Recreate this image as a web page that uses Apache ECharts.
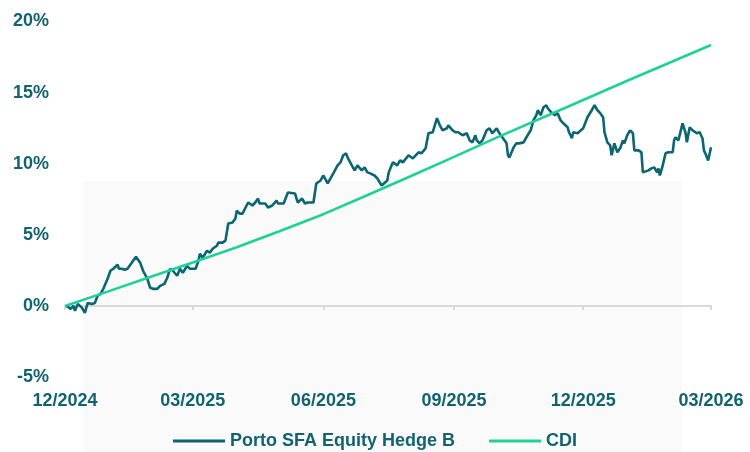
<!DOCTYPE html>
<html>
<head>
<meta charset="utf-8">
<script src="https://cdn.jsdelivr.net/npm/echarts@6/dist/echarts.min.js"></script>
<style>html,body{margin:0;padding:0;background:#fff}#c{width:750px;height:452px}</style>
</head>
<body>
<div id="c"></div>
<script>
// x = days since 01/12/2024
const tickDays = [0, 90, 182, 274, 365, 455];
const tickLabels = ['12/2024', '03/2025', '06/2025', '09/2025', '12/2025', '03/2026'];
const yTicks = [-5, 0, 5, 10, 15, 20];

const fundName = 'Porto SFA Equity Hedge B';
const fundDays = [1,4,6,7,9,12,14,16,19,21,23,25,27,30,32,34,37,38,40,42,44,47,50,53,55,58,60,62,65,67,70,72,74,76,79,81,83,86,88,92,94,95,
97,100,102,104,107,108,111,113,115,118,120,121,123,125,129,132,134,136,137,141,143,146,149,150,154,157,162,164,167,169,171,175,177,180,182,185,
187,189,192,194,196,198,199,202,204,206,209,211,213,215,218,220,223,224,227,228,230,231,234,236,238,242,245,249,251,254,256,259,262,264,266,269,270,273,275,277,
278,280,283,285,287,289,290,292,294,297,299,301,304,306,308,311,312,313,316,318,320,323,325,328,330,332,333,335,337,339,340,343,345,347,349,351,354,355,357,358,361,365,
366,368,371,373,375,377,379,380,382,384,385,387,389,391,393,394,396,398,400,401,404,406,407,411,413,415,417,418,419,420,421,423,425,428,429,430,432,435,436,437,438,440,442,445,447,449,450,451,453,455];
const fundValues = [0,-0.21,0,-0.35,0.14,-0.14,-0.49,0.21,0.14,0.21,0.71,0.85,1.20,1.91,2.47,2.61,2.89,2.61,2.61,2.54,2.61,3.03,3.46,3.03,2.47,1.91,1.27,1.20,1.20,1.41,1.55,1.98,2.61,2.47,2.12,2.61,2.33,2.82,2.61,2.61,3.18,3.67,
3.39,3.88,3.74,4.02,4.23,4.45,4.45,4.59,5.79,5.86,6.14,6.70,6.49,6.49,7.27,7.06,7.27,7.55,7.20,7.20,6.92,7.06,7.41,7.20,7.20,7.97,7.90,7.27,7.55,7.20,7.27,7.27,8.61,8.82,9.17,8.61,
8.96,9.32,9.88,10.09,10.59,10.73,10.44,9.88,9.53,9.88,9.53,9.74,9.39,9.32,9.17,8.96,8.47,8.61,8.82,9.39,9.88,10.09,9.88,10.23,10.09,10.59,10.37,10.80,10.73,11.08,12.14,12.21,13.20,12.70,12.35,12.49,12.70,12.35,12.21,12.21,
12.21,12.00,12.14,11.64,11.50,12.00,11.64,11.43,11.64,12.35,12.49,12.14,12.49,12.14,11.86,11.43,10.59,10.44,11.15,11.43,11.43,11.50,11.86,12.35,13.06,13.41,13.76,13.41,13.97,14.11,13.90,13.55,13.41,13.55,13.06,12.84,12.56,12.21,11.79,12.21,12.14,12.49,
12.56,13.27,13.76,14.11,13.76,13.55,13.27,12.21,11.50,11.29,10.59,11.43,10.80,11.08,11.64,11.43,12.00,12.35,12.14,10.94,10.94,10.80,9.39,9.53,9.67,9.74,9.39,9.67,9.17,9.53,9.88,10.73,10.80,10.80,11.64,11.86,11.64,12.84,12.49,12.21,11.50,12.56,12.35,12.14,12.21,11.79,10.94,10.73,10.23,11.15];

const cdiName = 'CDI';
const cdiDays = [0,31,62,90,121,151,182,212,243,274,304,335,365,396,427,455];
const cdiValues = [0,1.04,2.10,3.05,4.12,5.25,6.45,7.75,9.10,10.48,11.83,13.18,14.48,15.83,17.15,18.35];

const fundData = fundDays.map((d, i) => [d, fundValues[i]]);
const cdiData = cdiDays.map((d, i) => [d, cdiValues[i]]);

const textColor = '#10636f';
const font = 'Liberation Sans, Arial, sans-serif';

const chart = echarts.init(document.getElementById('c'), null, {renderer: 'canvas'});
chart.setOption({
  animation: false,
  backgroundColor: '#ffffff',
  graphic: [{
    type: 'rect', z: -10, silent: true,
    shape: {x: 83, y: 181, width: 599, height: 271},
    style: {fill: '#fafafa'}
  }],
  grid: {left: 65, right: 39, top: 21.5, bottom: 75, outerBoundsMode: 'none', containLabel: false},
  legend: {
    top: 427, left: 'center',
    itemWidth: 52, itemHeight: 3, itemGap: 34,
    icon: 'rect',
    textStyle: {color: textColor, fontSize: 18, fontWeight: 'bold', fontFamily: font},
    data: [fundName, cdiName]
  },
  xAxis: [{
    type: 'value', min: 0, max: 455,
    axisLine: {onZero: true, lineStyle: {color: '#d9d9d9', width: 2}},
    axisTick: {show: true, length: 4, lineStyle: {color: '#d9d9d9', width: 2}, customValues: tickDays},
    axisLabel: {show: false},
    splitLine: {show: false}
  }, {
    type: 'value', min: 0, max: 455, position: 'bottom',
    axisLine: {show: false, onZero: false},
    axisTick: {show: false},
    splitLine: {show: false},
    axisLabel: {
      show: true, margin: 15, customValues: tickDays,
      color: textColor, fontSize: 18, fontWeight: 'bold', fontFamily: font,
      formatter: v => tickLabels[tickDays.indexOf(v)] || ''
    }
  }],
  yAxis: {
    type: 'value', min: -5, max: 20, interval: 5,
    axisLine: {show: false}, axisTick: {show: false}, splitLine: {show: false},
    axisLabel: {
      margin: 16, color: textColor, fontSize: 18, fontWeight: 'bold', fontFamily: font,
      customValues: yTicks,
      formatter: v => v + '%'
    }
  },
  series: [{
    name: fundName, type: 'line', xAxisIndex: 0, data: fundData,
    showSymbol: false, symbol: 'none',
    lineStyle: {color: '#0b6573', width: 2.6},
    itemStyle: {color: '#0b6573'}
  }, {
    name: cdiName, type: 'line', xAxisIndex: 0, data: cdiData,
    showSymbol: false, symbol: 'none',
    lineStyle: {color: '#1fd196', width: 2.6},
    itemStyle: {color: '#1fd196'}
  }]
});
</script>
</body>
</html>
